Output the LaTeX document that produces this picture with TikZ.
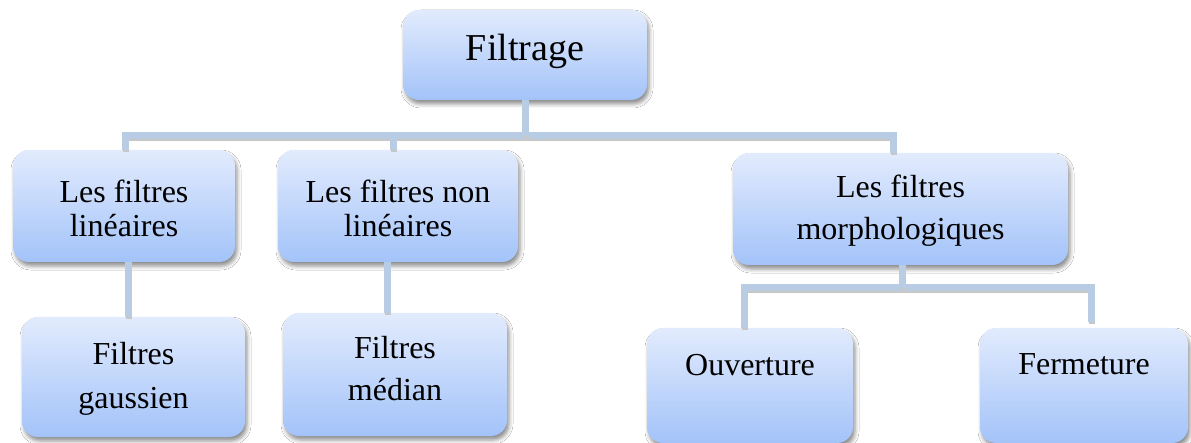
\documentclass[tikz,border=0pt]{standalone}
\usepackage{fontspec}
\setmainfont{Liberation Serif}
\usetikzlibrary{shadows.blur}
\definecolor{boxtop}{RGB}{226,235,253}
\definecolor{boxbot}{RGB}{163,195,249}
\definecolor{connc}{RGB}{184,204,228}
\tikzset{
  box/.style={rounded corners=16pt, top color=boxtop, bottom color=boxbot, draw=none,
    blur shadow={shadow xshift=2pt, shadow yshift=-4pt, shadow blur radius=4pt, shadow opacity=45},
    align=center, inner sep=0pt, font=\fontsize{32}{42}\selectfont},
  conn/.style={line width=7pt, draw=connc, line join=miter,
    preaction={draw=black!22, line width=6pt, transform canvas={xshift=1pt,yshift=-2.5pt}}}
}
\begin{document}
\begin{tikzpicture}[x=1pt,y=-1pt]
\useasboundingbox[fill=white] (0,0) rectangle (1191,443);
% nodes
\node[box, minimum width=244pt, minimum height=90pt, font=\fontsize{38}{42}\selectfont,
      text height=26pt, text depth=15pt] (filtrage) at (525,55) {Filtrage};
\node[box, minimum width=222pt, minimum height=112pt, font=\fontsize{32}{34}\selectfont,
      text height=62pt, text depth=0pt] (lin) at (124,206) {Les filtres\\lin\'eaires};
\node[box, minimum width=240pt, minimum height=112pt, font=\fontsize{32}{34}\selectfont,
      text height=62pt, text depth=0pt] (nonlin) at (398,206) {Les filtres non\\lin\'eaires};
\node[box, minimum width=335pt, minimum height=112pt,
      text height=69pt, text depth=7pt] (morph) at (900.5,209) {Les filtres\\morphologiques};
\node[box, minimum width=223pt, minimum height=120pt, font=\fontsize{32}{44}\selectfont,
      text height=69pt, text depth=7pt] (gauss) at (133.5,377) {Filtres\\gaussien};
\node[box, minimum width=224pt, minimum height=123pt,
      text height=64pt, text depth=13pt] (median) at (395,374.5) {Filtres\\m\'edian};
\node[box, minimum width=206pt, minimum height=115pt,
      text height=25pt, text depth=46pt] (ouv) at (750,385.5) {Ouverture};
\node[box, minimum width=208pt, minimum height=115pt,
      text height=25pt, text depth=48pt] (ferm) at (1084,385.5) {Fermeture};
% connectors
\coordinate (bar) at (525,136);
\coordinate (subbar) at (902,288);
\draw[conn] ([xshift=1pt]lin.north) |- (bar) -| ([xshift=-7.5pt]morph.north);
\draw[conn] (filtrage.south) -- (bar);
\draw[conn] ([xshift=-5pt]nonlin.north) -- ([xshift=-5pt]nonlin.north |- bar);
\draw[conn] ([xshift=4pt]lin.south) -- ([xshift=4pt]lin.south |- gauss.north);
\draw[conn] ([xshift=-11pt]nonlin.south) -- ([xshift=-11pt]nonlin.south |- median.north);
\draw[conn] ([xshift=-6pt]ouv.north) |- (subbar) -| ([xshift=7pt,yshift=6pt]ferm.north);
\draw[conn] ([xshift=1.5pt]morph.south) -- (subbar);
\end{tikzpicture}
\end{document}
